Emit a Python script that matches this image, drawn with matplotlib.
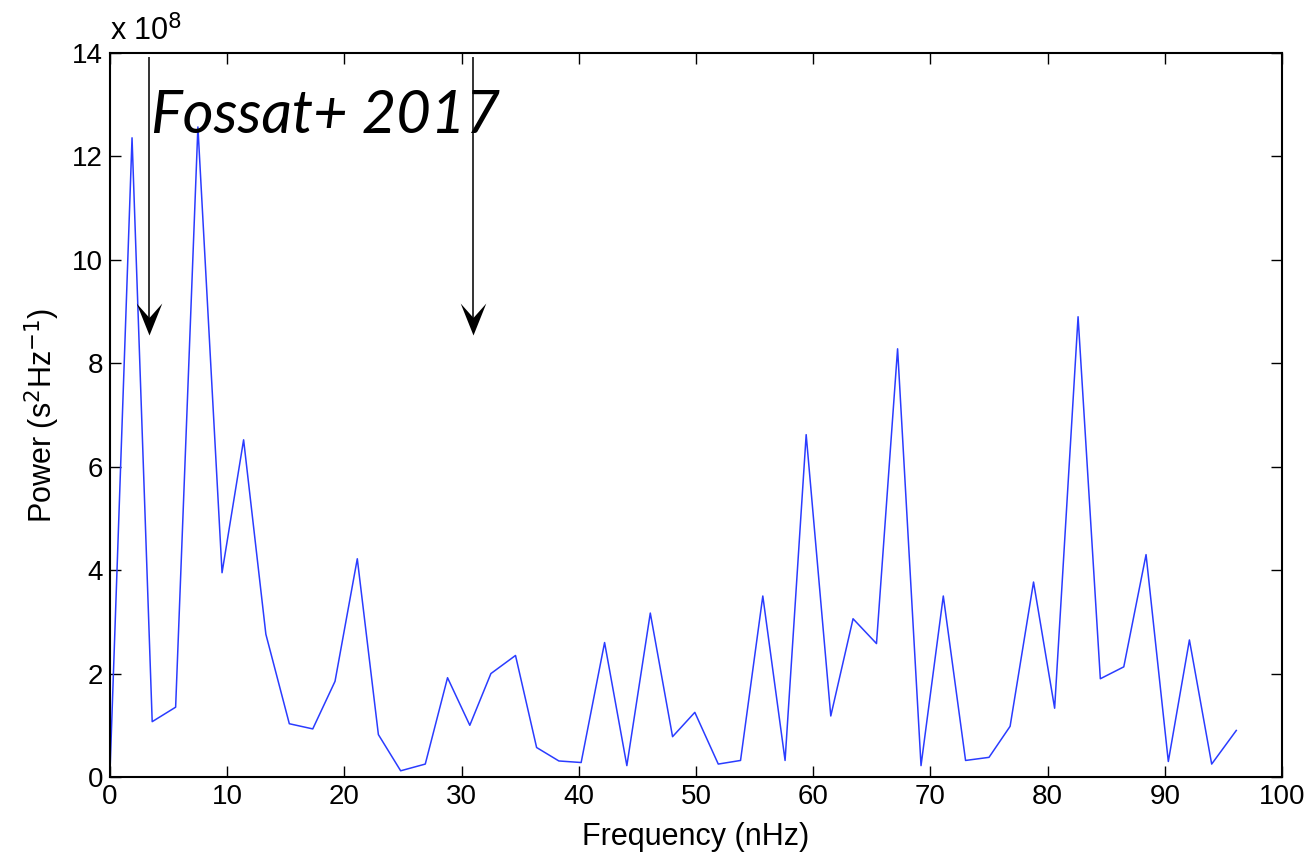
import matplotlib
matplotlib.use("Agg")
import matplotlib.pyplot as plt
from matplotlib.path import Path

freq = [0.0, 1.88, 3.6, 5.6, 7.5, 9.56, 11.4, 13.3, 15.3, 17.3, 19.2, 21.1, 22.9, 24.8,
        26.9, 28.8, 30.7, 32.5, 34.6, 36.4, 38.3, 40.2, 42.2, 44.1, 46.1, 48.0, 49.9,
        51.9, 53.8, 55.7, 57.6, 59.4, 61.5, 63.4, 65.4, 67.2, 69.2, 71.1, 73.0, 75.0,
        76.8, 78.8, 80.6, 82.6, 84.5, 86.5, 88.4, 90.3, 92.1, 94.0, 96.1]
power = [0.1, 12.36, 1.07, 1.35, 12.57, 3.95, 6.52, 2.76, 1.03, 0.93, 1.85, 4.22, 0.82, 0.12,
         0.25, 1.92, 1.0, 2.0, 2.35, 0.57, 0.31, 0.28, 2.6, 0.22, 3.17, 0.78, 1.25,
         0.25, 0.32, 3.5, 0.32, 6.62, 1.18, 3.06, 2.58, 8.28, 0.22, 3.5, 0.32, 0.38,
         0.98, 3.77, 1.33, 8.9, 1.9, 2.13, 4.3, 0.3, 2.65, 0.25, 0.9]  # units of 1e8
arrow_x = [3.3, 31.0]
arrow_top = 13.9
arrow_tip = 8.55
xticks = list(range(0, 101, 10))
yticks = list(range(0, 15, 2))

plt.rcParams['font.family'] = ['Liberation Sans', 'DejaVu Sans']

fig = plt.figure(figsize=(13.15, 8.59), dpi=100)
ax = fig.add_axes([110/1315, 1-777/859, (1282-110)/1315, (777-53)/859])

ax.plot(freq, power, color='#2a3cff', lw=1.1)

# stealth-style arrowhead marker, tip at the origin
head = Path([(0, 0), (-0.4, 1.0), (0, 0.55), (0.4, 1.0), (0, 0)],
            [Path.MOVETO, Path.LINETO, Path.LINETO, Path.LINETO, Path.CLOSEPOLY])
for xa in arrow_x:
    ax.plot([xa, xa], [arrow_top, arrow_tip + 0.3], color='#333333', lw=1.4)
    ax.plot([xa], [arrow_tip], marker=head, markersize=46, color='black',
            markeredgewidth=0)

ax.text(3.5, 12.45, 'Fossat+ 2017', family='Lato', style='italic', fontsize=43,
        color='black', ha='left', va='baseline')

ax.set_xlim(0, 100)
ax.set_ylim(0, 14)
ax.set_xticks(xticks)
ax.set_yticks(yticks)
ax.tick_params(direction='in', length=8, width=1, top=True, right=True,
               labelsize=20, pad=5)
for s in ax.spines.values():
    s.set_linewidth(1.5)
ax.set_xlabel('Frequency (nHz)', fontsize=22, labelpad=9)
ax.set_ylabel('Power (s$^2$Hz$^{-1}$)', fontsize=22, labelpad=7)
ax.text(0.0, 1.008, r'x 10$^8$', transform=ax.transAxes, fontsize=22,
        ha='left', va='bottom')

fig.savefig('out.png', dpi=100)
